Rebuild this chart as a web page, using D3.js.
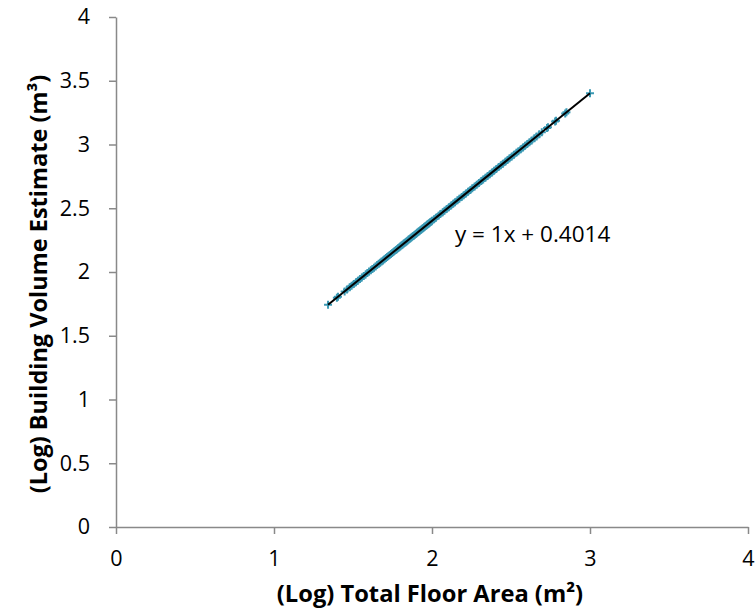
<!DOCTYPE html>
<html>
<head>
<meta charset="utf-8">
<script src="https://cdn.jsdelivr.net/npm/d3@7"></script>
<style>
  html, body { margin: 0; padding: 0; background: #fff; }
  svg { display: block; }
  text { font-family: "Open Sans", Lato, "Liberation Sans", sans-serif; fill: #000; }
</style>
</head>
<body>
<svg id="chart" width="755" height="611"></svg>
<script>
// Log total floor area (m²) for each building
const logFloorArea = [
  1.342, 1.398, 1.405, 1.447, 1.462, 1.479, 1.491, 1.505, 1.519, 1.531,
  1.544, 1.556, 1.568, 1.580, 1.591, 1.602, 1.613, 1.623, 1.633, 1.643,
  1.653, 1.663, 1.672, 1.681, 1.690, 1.699, 1.708, 1.716, 1.724, 1.732,
  1.740, 1.748, 1.756, 1.763, 1.771, 1.778, 1.785, 1.792, 1.799, 1.806,
  1.813, 1.820, 1.826, 1.833, 1.839, 1.845, 1.851, 1.857, 1.863, 1.869,
  1.875, 1.881, 1.886, 1.892, 1.898, 1.903, 1.908, 1.914, 1.919, 1.924,
  1.929, 1.934, 1.940, 1.945, 1.950, 1.954, 1.959, 1.964, 1.969, 1.973,
  1.978, 1.982, 1.987, 1.991, 1.996, 2.000, 2.013, 2.025, 2.041, 2.053,
  2.068, 2.079, 2.093, 2.107, 2.121, 2.134, 2.146, 2.161, 2.173, 2.188,
  2.201, 2.215, 2.228, 2.243, 2.255, 2.270, 2.283, 2.297, 2.312, 2.324,
  2.338, 2.352, 2.366, 2.380, 2.393, 2.407, 2.422, 2.436, 2.449, 2.464,
  2.478, 2.491, 2.505, 2.519, 2.534, 2.547, 2.562, 2.576, 2.589, 2.603,
  2.617, 2.631, 2.648, 2.662, 2.679, 2.695, 2.728, 2.734, 2.779, 2.785,
  2.843, 2.851, 3.000
];

// Log building volume estimate (m³) for the same buildings
const logVolume = [
  1.743, 1.799, 1.806, 1.848, 1.863, 1.880, 1.892, 1.906, 1.920, 1.932,
  1.945, 1.957, 1.969, 1.981, 1.992, 2.003, 2.014, 2.024, 2.034, 2.044,
  2.054, 2.064, 2.073, 2.082, 2.091, 2.100, 2.109, 2.117, 2.125, 2.133,
  2.141, 2.149, 2.157, 2.164, 2.172, 2.179, 2.186, 2.193, 2.200, 2.207,
  2.214, 2.221, 2.227, 2.234, 2.240, 2.246, 2.252, 2.258, 2.264, 2.270,
  2.276, 2.282, 2.287, 2.293, 2.299, 2.304, 2.309, 2.315, 2.320, 2.325,
  2.330, 2.335, 2.341, 2.346, 2.351, 2.355, 2.360, 2.365, 2.370, 2.374,
  2.379, 2.383, 2.388, 2.392, 2.397, 2.401, 2.414, 2.426, 2.442, 2.454,
  2.469, 2.480, 2.494, 2.508, 2.522, 2.535, 2.547, 2.562, 2.574, 2.589,
  2.602, 2.616, 2.629, 2.644, 2.656, 2.671, 2.684, 2.698, 2.713, 2.725,
  2.739, 2.753, 2.767, 2.781, 2.794, 2.808, 2.823, 2.837, 2.850, 2.865,
  2.879, 2.892, 2.906, 2.920, 2.935, 2.948, 2.963, 2.977, 2.990, 3.004,
  3.018, 3.032, 3.049, 3.063, 3.080, 3.096, 3.129, 3.135, 3.180, 3.186,
  3.244, 3.252, 3.401
];

// Linear trendline fitted to the points
const trendSlope = 1;
const trendIntercept = 0.4014;
const trendLabel = "y = 1x + 0.4014";

// Axis ticks
const xTicks = [0, 1, 2, 3, 4];
const yTicks = [0, 0.5, 1, 1.5, 2, 2.5, 3, 3.5, 4];

const xTitle = "(Log) Total Floor Area (m²)";
const yTitle = "(Log) Building Volume Estimate (m³)";

const svg = d3.select("#chart");
const axisColor = "#898989";
const markerColor = "#3A99B4";

const x = d3.scaleLinear().domain([0, 4]).range([116, 748]);
const y = d3.scaleLinear().domain([0, 4]).range([527, 17]);

const tickFont = 21.5;

// X axis
const xAxis = svg.append("g")
  .attr("transform", `translate(0,${y(0)})`)
  .call(d3.axisBottom(x).tickValues(xTicks).tickSize(7).tickSizeOuter(0).tickPadding(17)
    .tickFormat(d3.format("")));
xAxis.select(".domain").attr("stroke", axisColor).attr("stroke-width", 1.5);
xAxis.selectAll(".tick line").attr("stroke", axisColor).attr("stroke-width", 1.5);
xAxis.selectAll(".tick text").attr("font-size", tickFont).attr("font-family", "'Open Sans', sans-serif").attr("fill", "#000");

// Y axis
const yAxis = svg.append("g")
  .attr("transform", `translate(${x(0)},0)`)
  .call(d3.axisLeft(y).tickValues(yTicks).tickSize(7).tickSizeOuter(0).tickPadding(19)
    .tickFormat(d3.format("")));
yAxis.select(".domain").attr("stroke", axisColor).attr("stroke-width", 1.5);
yAxis.selectAll(".tick line").attr("stroke", axisColor).attr("stroke-width", 1.5);
yAxis.selectAll(".tick text").attr("font-size", tickFont).attr("font-family", "'Open Sans', sans-serif").attr("fill", "#000");

// Data points as small plus markers
const points = logFloorArea.map((v, i) => [v, logVolume[i]]);
const arm = 4;
const marks = svg.append("g").attr("stroke", markerColor).attr("stroke-width", 2);
marks.selectAll("path").data(points).join("path")
  .attr("d", d => {
    const px = x(d[0]), py = y(d[1]);
    return `M${px - arm},${py}H${px + arm}M${px},${py - arm}V${py + arm}`;
  });

// Trendline over the data range
const xMin = d3.min(logFloorArea), xMax = d3.max(logFloorArea);
svg.append("line")
  .attr("x1", x(xMin)).attr("y1", y(trendSlope * xMin + trendIntercept))
  .attr("x2", x(xMax)).attr("y2", y(trendSlope * xMax + trendIntercept))
  .attr("stroke", "#000").attr("stroke-width", 2);

// Trendline equation
svg.append("text")
  .attr("x", 455).attr("y", 242)
  .attr("font-size", 22.5)
  .text(trendLabel);

// Axis titles
svg.append("text")
  .attr("x", 430).attr("y", 602)
  .attr("text-anchor", "middle")
  .attr("font-size", 23.7).attr("font-weight", "bold")
  .text(xTitle);

svg.append("text")
  .attr("transform", `translate(47,284) rotate(-90)`)
  .attr("text-anchor", "middle")
  .attr("font-size", 23.5).attr("font-weight", "bold")
  .text(yTitle);
</script>
</body>
</html>
